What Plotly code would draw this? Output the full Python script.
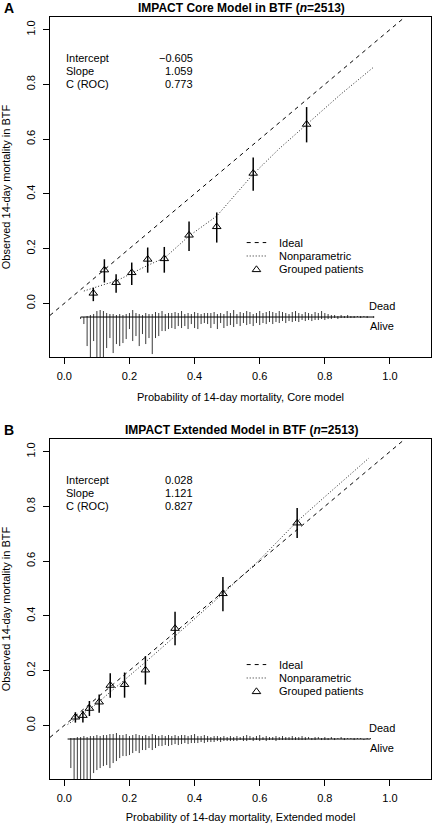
import plotly.graph_objects as go

# ---------------- data ----------------
tick_vals = [0.0, 0.2, 0.4, 0.6, 0.8, 1.0]
tick_text = ["0.0", "0.2", "0.4", "0.6", "0.8", "1.0"]

stat_labels = ["Intercept", "Slope", "C (ROC)"]
A_stat_values = ["\u22120.605", "1.059", "0.773"]
B_stat_values = ["0.028", "1.121", "0.827"]

legend_labels = ["Ideal", "Nonparametric", "Grouped patients"]

# Panel A: grouped patients (mean predicted, observed, 95% CI)
A_x = [0.089, 0.123, 0.159, 0.207, 0.256, 0.307, 0.383, 0.468, 0.580, 0.744]
A_y = [0.037, 0.122, 0.076, 0.112, 0.161, 0.163, 0.249, 0.280, 0.475, 0.654]
A_lo = [0.008, 0.076, 0.039, 0.067, 0.112, 0.112, 0.191, 0.222, 0.411, 0.588]
A_hi = [0.057, 0.161, 0.106, 0.149, 0.204, 0.206, 0.299, 0.332, 0.533, 0.717]
# Panel A: nonparametric calibration curve
A_np_x = [0.06, 0.089, 0.12, 0.16, 0.207, 0.253, 0.309, 0.383, 0.468, 0.58, 0.66, 0.744, 0.85, 0.949]
A_np_y = [0.045, 0.057, 0.068, 0.082, 0.110, 0.137, 0.167, 0.246, 0.319, 0.472, 0.565, 0.654, 0.765, 0.862]

# Panel B
B_x = [0.034, 0.057, 0.077, 0.107, 0.141, 0.185, 0.249, 0.340, 0.487, 0.715]
B_y = [0.030, 0.036, 0.062, 0.085, 0.146, 0.149, 0.202, 0.354, 0.481, 0.739]
B_lo = [0.010, 0.010, 0.034, 0.046, 0.101, 0.101, 0.149, 0.293, 0.417, 0.684]
B_hi = [0.048, 0.052, 0.089, 0.113, 0.190, 0.193, 0.253, 0.415, 0.542, 0.794]
B_np_x = [0.01, 0.05, 0.10, 0.15, 0.20, 0.25, 0.30, 0.35, 0.40, 0.487, 0.60, 0.715, 0.80, 0.935]
B_np_y = [0.003, 0.035, 0.080, 0.130, 0.180, 0.232, 0.284, 0.336, 0.388, 0.481, 0.605, 0.745, 0.835, 0.976]

# Spike histograms of predicted probabilities (relative frequency)
A_bins = [round(0.05 + 0.01 * i, 2) for i in range(91)]
A_alive = [2, 7, 29, 45, 24, 45, 50, 45, 31, 21, 36, 27, 29, 26, 22, 12, 24, 19, 29, 17,
           27, 21, 37, 21, 19, 14, 14, 12, 11, 12, 9, 11, 9, 12, 7, 11, 12, 7, 6, 7,
           11, 7, 12, 6, 11, 9, 8, 10, 7, 9, 6, 8, 7, 9, 6, 8, 6, 7, 5, 7,
           5, 6, 4, 6, 4, 5, 4, 5, 3, 4, 3, 4, 3, 3, 2, 3, 2, 2, 1, 2,
           1, 1, 1, 1, 1, 0, 1, 0, 1, 0, 1]
A_dead = [0, 0, 1, 2, 3, 6, 7, 6, 4, 3, 3, 2, 3, 2, 3, 4, 7, 4, 3, 2,
          4, 3, 3, 5, 4, 6, 3, 4, 4, 5, 4, 6, 3, 4, 3, 5, 4, 3, 4, 4,
          4, 5, 3, 4, 3, 6, 4, 7, 3, 5, 4, 6, 5, 3, 4, 6, 4, 5, 6, 5,
          4, 6, 5, 4, 3, 5, 6, 4, 3, 5, 4, 3, 5, 4, 6, 4, 3, 2, 2, 1,
          2, 1, 2, 1, 1, 1, 1, 1, 1, 0, 1]
B_bins = [round(0.01 + 0.01 * i, 2) for i in range(94)]
B_alive = [0, 29, 45, 45, 45, 45, 45, 45, 34, 31, 29, 27, 26, 29, 24, 22, 19, 17, 17, 16,
           14, 12, 14, 11, 11, 9, 11, 9, 7, 7, 6, 7, 6, 5, 6, 5, 4, 5, 4, 4,
           4, 3, 4, 3, 3, 3, 2, 3, 2, 2, 2, 2, 2, 1, 2, 2, 1, 2, 1, 2,
           1, 2, 1, 1, 2, 1, 1, 1, 1, 1, 1, 1, 1, 1, 0, 1, 1, 0, 1, 1,
           1, 0, 1, 0, 0, 1, 0, 0, 1, 0, 0, 1, 0, 0]
B_dead = [0, 1, 1, 2, 2, 3, 2, 3, 3, 4, 3, 4, 4, 5, 5, 6, 4, 4, 5, 3,
          4, 5, 4, 3, 4, 3, 5, 4, 3, 4, 3, 4, 3, 4, 3, 4, 4, 3, 4, 5,
          3, 3, 4, 3, 2, 3, 3, 2, 3, 2, 3, 2, 3, 2, 3, 4, 3, 2, 3, 4,
          2, 3, 2, 2, 3, 2, 3, 2, 2, 3, 2, 2, 3, 2, 2, 1, 2, 2, 1, 2,
          1, 2, 1, 1, 2, 1, 1, 1, 1, 1, 1, 0, 1, 1]

# ---------------- layout constants ----------------
W, H = 432, 823
FONT = "Liberation Sans, Arial, sans-serif"
XR = [-0.044, 1.126]
YR = [-0.196, 1.046]
SPIKE_SCALE = 1.0 / 273.5
HIST_Y = -0.05

panels = [
    dict(key="A", title="IMPACT Core Model in BTF (<i>n</i>=2513)",
         xtitle="Probability of 14-day mortality, Core model",
         top=17, bottom=357, x=A_x, y=A_y, lo=A_lo, hi=A_hi,
         npx=A_np_x, npy=A_np_y, bins=A_bins, alive=A_alive, dead=A_dead,
         stats=A_stat_values),
    dict(key="B", title="IMPACT Extended Model in BTF (<i>n</i>=2513)",
         xtitle="Probability of 14-day mortality, Extended model",
         top=439, bottom=779, x=B_x, y=B_y, lo=B_lo, hi=B_hi,
         npx=B_np_x, npy=B_np_y, bins=B_bins, alive=B_alive, dead=B_dead,
         stats=B_stat_values),
]

fig = go.Figure()
annotations = []
shapes = []
axis_common = dict(
    showgrid=False, zeroline=False, showline=True, mirror=True,
    linecolor="black", linewidth=1, ticks="outside", ticklen=6,
    tickwidth=1, tickcolor="black", tickvals=tick_vals, ticktext=tick_text,
    tickfont=dict(family=FONT, size=11, color="black"),
)

for i, p in enumerate(panels):
    sfx = "" if i == 0 else str(i + 1)
    xref, yref = "x" + sfx, "y" + sfx
    xa = dict(axis_common, domain=[50 / W, 431 / W], range=XR, anchor=yref,
              ticklabelstandoff=3,
              title=dict(text=p["xtitle"], standoff=12,
                         font=dict(family=FONT, size=11, color="black")))
    ya = dict(axis_common, domain=[1 - p["bottom"] / H, 1 - p["top"] / H],
              range=YR, anchor=xref, tickangle=-90, ticklabelstandoff=4,
              title=dict(text="Observed 14-day mortality in BTF", standoff=14,
                         font=dict(family=FONT, size=11, color="black")))
    fig.update_layout(**{"xaxis" + sfx: xa, "yaxis" + sfx: ya})

    # ideal line
    fig.add_trace(go.Scatter(x=[XR[0], YR[1]], y=[XR[0], YR[1]], mode="lines",
                             line=dict(color="black", width=1, dash="4px,4px"),
                             xaxis=xref, yaxis=yref, showlegend=False, name="Ideal"))
    # nonparametric curve
    fig.add_trace(go.Scatter(x=p["npx"], y=p["npy"], mode="lines",
                             line=dict(color="#222", width=1, dash="1px,2px"),
                             xaxis=xref, yaxis=yref, showlegend=False, name="Nonparametric"))
    # spike histogram
    sx, sy = [], []
    for b, a, d in zip(p["bins"], p["alive"], p["dead"]):
        if d > 0:
            sx += [b, b, None]
            sy += [HIST_Y, HIST_Y + d * SPIKE_SCALE, None]
        if a > 0:
            sx += [b, b, None]
            sy += [HIST_Y, HIST_Y - a * SPIKE_SCALE, None]
    fig.add_trace(go.Scatter(x=sx, y=sy, mode="lines",
                             line=dict(color="#3a3a3a", width=1),
                             xaxis=xref, yaxis=yref, showlegend=False, hoverinfo="skip"))
    fig.add_trace(go.Scatter(x=[min(p["bins"]), max(p["bins"])], y=[HIST_Y, HIST_Y],
                             mode="lines", line=dict(color="black", width=1),
                             xaxis=xref, yaxis=yref, showlegend=False, hoverinfo="skip"))
    # grouped patients
    fig.add_trace(go.Scatter(
        x=p["x"], y=p["y"], mode="markers",
        marker=dict(symbol="triangle-up-open", size=7.5, color="black",
                    line=dict(width=1, color="black")),
        error_y=dict(type="data", symmetric=False,
                     array=[h - v for h, v in zip(p["hi"], p["y"])],
                     arrayminus=[v - l for v, l in zip(p["y"], p["lo"])],
                     width=0, thickness=1.5, color="black"),
        xaxis=xref, yaxis=yref, showlegend=False, name="Grouped patients"))

    # panel letter + title
    ty = p["top"] - 9
    annotations.append(dict(text="<b>%s</b>" % p["key"], xref="paper", yref="paper",
                            x=2 / W, y=1 - ty / H, xanchor="left", yanchor="middle",
                            showarrow=False, font=dict(family=FONT, size=14, color="black")))
    annotations.append(dict(text="<b>%s</b>" % p["title"], xref="paper", yref="paper",
                            x=241 / W, y=1 - ty / H, xanchor="center", yanchor="middle",
                            showarrow=False, font=dict(family=FONT, size=12, color="black")))
    # stats block
    for j, (lab, val) in enumerate(zip(stat_labels, p["stats"])):
        yy = 0.898 - 0.049 * j
        annotations.append(dict(text=lab, xref=xref, yref=yref, x=0.0, y=yy,
                                xanchor="left", yanchor="middle", showarrow=False,
                                font=dict(family=FONT, size=11, color="black")))
        annotations.append(dict(text=val, xref=xref, yref=yref, x=0.40, y=yy,
                                xanchor="right", yanchor="middle", showarrow=False,
                                font=dict(family=FONT, size=11, color="black")))
    # legend (drawn R-style)
    ly = [0.222, 0.173, 0.124]
    shapes.append(dict(type="line", xref=xref, yref=yref, x0=0.56, x1=0.62, y0=ly[0], y1=ly[0],
                       line=dict(color="black", width=1, dash="4px,4px")))
    shapes.append(dict(type="line", xref=xref, yref=yref, x0=0.56, x1=0.62, y0=ly[1], y1=ly[1],
                       line=dict(color="#222", width=1, dash="1px,2px")))
    shapes.append(dict(type="path", xref=xref, yref=yref, xsizemode="pixel", ysizemode="pixel",
                       xanchor=0.59, yanchor=ly[2], path="M-4.3,-2.2 L4.3,-2.2 L0,3.6 Z",
                       line=dict(color="black", width=1)))
    for lab, yy in zip(legend_labels, ly):
        annotations.append(dict(text=lab, xref=xref, yref=yref, x=0.652, y=yy,
                                xanchor="left", yanchor="middle", showarrow=False,
                                font=dict(family=FONT, size=11, color="black")))
    # Dead / Alive labels
    annotations.append(dict(text="Dead", xref=xref, yref=yref, x=0.975, y=HIST_Y + 0.039,
                            xanchor="center", yanchor="middle", showarrow=False,
                            font=dict(family=FONT, size=11, color="black")))
    annotations.append(dict(text="Alive", xref=xref, yref=yref, x=0.975, y=HIST_Y - 0.034,
                            xanchor="center", yanchor="middle", showarrow=False,
                            font=dict(family=FONT, size=11, color="black")))

fig.update_layout(
    width=W, height=H, margin=dict(l=0, r=0, t=0, b=0),
    paper_bgcolor="white", plot_bgcolor="white",
    annotations=annotations, shapes=shapes, showlegend=False,
    font=dict(family=FONT, size=11, color="black"),
)
fig.write_html("out.html", config={"displayModeBar": False},
               post_script="document.body.style.margin='0';document.body.style.overflow='hidden';")
